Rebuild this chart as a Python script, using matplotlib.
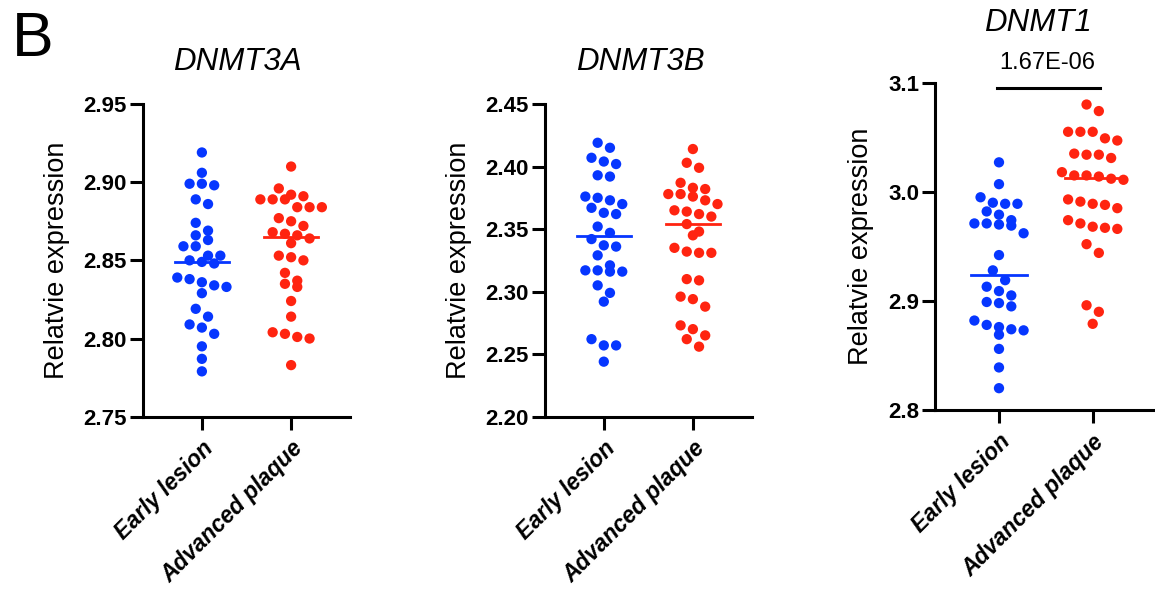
import numpy as np
import matplotlib
matplotlib.use("Agg")
import matplotlib.pyplot as plt

plt.rcParams['font.family'] = ['Liberation Sans', 'DejaVu Sans']

groups = ['Early lesion', 'Advanced plaque']
genes = ['DNMT3A', 'DNMT3B', 'DNMT1']

dnmt3a_early = [2.919, 2.906, 2.899, 2.898, 2.899, 2.889, 2.886, 2.874, 2.869, 2.863, 2.866,
                2.859, 2.859, 2.853, 2.848, 2.849, 2.850, 2.853, 2.836, 2.838, 2.839, 2.833,
                2.834, 2.829, 2.819, 2.814, 2.809, 2.807, 2.803, 2.795, 2.787, 2.779]
dnmt3a_adv = [2.910, 2.896, 2.889, 2.889, 2.892, 2.891, 2.889, 2.884, 2.884, 2.884, 2.875,
              2.877, 2.872, 2.864, 2.867, 2.866, 2.868, 2.861, 2.852, 2.853, 2.850, 2.842,
              2.833, 2.835, 2.837, 2.824, 2.814, 2.803, 2.800, 2.801, 2.804, 2.783]

dnmt3b_early = [2.419, 2.415, 2.407, 2.404, 2.402, 2.393, 2.392, 2.375, 2.376, 2.373, 2.370,
                2.367, 2.363, 2.362, 2.352, 2.347, 2.342, 2.336, 2.337, 2.329, 2.316, 2.316,
                2.317, 2.317, 2.321, 2.305, 2.299, 2.292, 2.262, 2.257, 2.257, 2.244]
dnmt3b_adv = [2.414, 2.403, 2.399, 2.387, 2.383, 2.382, 2.378, 2.378, 2.376, 2.370, 2.373,
              2.364, 2.365, 2.362, 2.360, 2.354, 2.348, 2.345, 2.331, 2.335, 2.331, 2.332,
              2.310, 2.309, 2.296, 2.294, 2.288, 2.273, 2.270, 2.265, 2.262, 2.256]

dnmt1_early = [3.027, 3.007, 2.995, 2.989, 2.989, 2.990, 2.982, 2.979, 2.971, 2.971, 2.974,
               2.969, 2.970, 2.962, 2.942, 2.928, 2.919, 2.913, 2.909, 2.905, 2.898, 2.899,
               2.895, 2.882, 2.876, 2.874, 2.878, 2.873, 2.869, 2.856, 2.839, 2.820]
dnmt1_adv = [3.080, 3.074, 3.055, 3.055, 3.055, 3.047, 3.049, 3.034, 3.035, 3.031, 3.034,
             3.015, 3.014, 3.011, 3.012, 3.018, 3.015, 2.989, 2.985, 2.988, 2.991, 2.993,
             2.974, 2.967, 2.966, 2.968, 2.971, 2.952, 2.944, 2.896, 2.890, 2.879]

# centre line of each group (as drawn in the figure)
centre_3a = [2.849, 2.865]
centre_3b = [2.3445, 2.354]
centre_1 = [2.9234, 3.0123]

ylims = [(2.75, 2.95), (2.20, 2.45), (2.8, 3.1)]
yticks = [[2.75, 2.80, 2.85, 2.90, 2.95],
          [2.20, 2.25, 2.30, 2.35, 2.40, 2.45],
          [2.8, 2.9, 3.0, 3.1]]
ytick_fmt = ['{:.2f}', '{:.2f}', '{:.1f}']

p_value = '1.67E-06'

blue = '#0636ff'
red = '#ff2410'

W, H = 1155, 590
fig = plt.figure(figsize=(W / 100, H / 100), dpi=100)

# axes boxes in pixels: left, top, right, bottom
boxes = [(143, 104, 350, 416.7), (545, 104, 751.7, 416.7), (935, 82.7, 1155, 410)]
xlims = [(-0.66, 1.66), (-0.66, 1.66), (-0.683, 1.665)]


def swarm(vals, ylim, h_px, w_px, xspan, step=12.3, diam=10.5):
    # prism-like scatter: points close in y share a row, rows are spread sideways
    vals = np.asarray(vals)
    py = (vals - ylim[0]) / (ylim[1] - ylim[0]) * h_px
    order = np.argsort(-vals)
    rows, cur = [], [order[0]]
    for i in order[1:]:
        if py[cur[0]] - py[i] < diam:
            cur.append(i)
        else:
            rows.append(cur)
            cur = [i]
    rows.append(cur)
    offs = np.zeros(len(vals))
    for row in rows:
        n = len(row)
        for k, i in enumerate(row):
            offs[i] = (k - (n - 1) / 2) * step
    return offs / w_px * xspan


data = [(dnmt3a_early, dnmt3a_adv, centre_3a),
        (dnmt3b_early, dnmt3b_adv, centre_3b),
        (dnmt1_early, dnmt1_adv, centre_1)]

axes = []
for j, (early, adv, centre) in enumerate(data):
    l, t, r, b = boxes[j]
    ax = fig.add_axes([l / W, 1 - b / H, (r - l) / W, (b - t) / H])
    axes.append(ax)
    ax.set_xlim(xlims[j])
    ax.set_ylim(ylims[j])
    xspan = xlims[j][1] - xlims[j][0]
    for k, (vals, col) in enumerate([(early, blue), (adv, red)]):
        off = swarm(vals, ylims[j], b - t, r - l, xspan)
        ax.scatter(k + off, vals, s=55, color=col, edgecolors='none', zorder=3, clip_on=False)
        ax.plot([k - 0.3, k + 0.3], [centre[k], centre[k]], color=col, lw=2.0, zorder=4)
    ax.set_yticks(yticks[j])
    ax.set_yticklabels([ytick_fmt[j].format(v) for v in yticks[j]],
                       fontsize=16, fontweight='bold')
    ax.set_xticks([0, 1])
    ax.set_xticklabels(groups, fontsize=16.5, fontweight='bold', fontstyle='italic',
                       rotation=45, ha='right', va='top', rotation_mode='anchor')
    for s in ['top', 'right']:
        ax.spines[s].set_visible(False)
    for s in ['left', 'bottom']:
        ax.spines[s].set_linewidth(2.2)
    ax.tick_params(axis='both', width=2.2, length=9.5, color='black')
    ax.tick_params(axis='y', pad=2)
    ax.tick_params(axis='x', pad=5)
    ax.set_ylabel('Relatvie expression', fontsize=19.5, labelpad=10)

# gene titles
title_pos = [(237, 62), (640, 62), (1038, 23)]
for g, (x, y) in zip(genes, title_pos):
    fig.text(x / W, 1 - y / H, g, fontsize=22.5, fontstyle='italic', ha='center', va='center')

# panel letter
fig.text(33 / W, 1 - 40 / H, 'B', fontsize=45, ha='center', va='center')

# significance bar on DNMT1
ax3 = axes[2]
ax3.plot([-0.02, 1.08], [3.095, 3.095], color='black', lw=2.2, clip_on=False)
ax3.text(0.51, 3.118, p_value, fontsize=17, ha='center', va='center', clip_on=False)

fig.savefig('out.png', dpi=100)
